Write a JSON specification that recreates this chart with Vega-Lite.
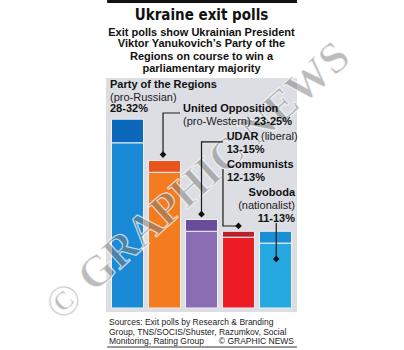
{
  "$schema": "https://vega.github.io/schema/vega-lite/v6.json",
  "width": 191,
  "height": 234,
  "autosize": {"type": "none"},
  "padding": {"left": 106, "top": 78, "right": 107, "bottom": 38},
  "background": "white",
  "config": {"view": {"fill": "#dcdee3", "stroke": null}, "text": {"font": "Liberation Sans"}},
  "datasets": {
    "bars": [
      {"party": "Party of the Regions", "pos": 1, "low": 28, "high": 32},
      {"party": "United Opposition", "pos": 2, "low": 23, "high": 25},
      {"party": "UDAR", "pos": 3, "low": 13, "high": 15},
      {"party": "Communists", "pos": 4, "low": 12, "high": 13},
      {"party": "Svoboda", "pos": 5, "low": 11, "high": 13}
    ],
    "title": [
      {"t": "Ukraine exit polls", "x": 3.0, "y": 49.66}
    ],
    "subtitle": [
      {"t": "Exit polls show Ukrainian President", "x": 3.0, "y": 46.66},
      {"t": "Viktor Yanukovich’s Party of the", "x": 3.0, "y": 44.69},
      {"t": "Regions on course to win a", "x": 3.0, "y": 42.59},
      {"t": "parliamentary majority", "x": 3.0, "y": 40.5}
    ],
    "boldLeft": [
      {"t": "Party of the Regions", "x": 0.527, "y": 37.8},
      {"t": "28-32%", "x": 0.527, "y": 33.7},
      {"t": "United Opposition", "x": 2.5, "y": 33.7},
      {"t": "23-25%", "x": 4.419, "y": 31.6},
      {"t": "UDAR", "x": 3.68, "y": 28.98},
      {"t": "13-15%", "x": 3.68, "y": 26.78},
      {"t": "Communists", "x": 3.69, "y": 24.24},
      {"t": "12-13%", "x": 3.69, "y": 22.03}
    ],
    "normalLeft": [
      {"t": "(pro-Russian)", "x": 0.527, "y": 35.6},
      {"t": "(pro-Western)", "x": 2.5, "y": 31.6},
      {"t": "(liberal)", "x": 4.608, "y": 28.98}
    ],
    "boldRight": [
      {"t": "Svoboda", "x": 5.527, "y": 19.49},
      {"t": "11-13%", "x": 5.527, "y": 15.08}
    ],
    "normalRight": [
      {"t": "(nationalist)", "x": 5.527, "y": 17.29}
    ],
    "leaders": [
      {"g": "opp", "o": 1, "x": 1.96, "y": 26.1},
      {"g": "opp", "o": 2, "x": 1.96, "y": 33.05},
      {"g": "opp", "o": 3, "x": 2.42, "y": 33.05},
      {"g": "udar", "o": 1, "x": 3.0, "y": 15.93},
      {"g": "udar", "o": 2, "x": 3.0, "y": 28.14},
      {"g": "udar", "o": 3, "x": 3.58, "y": 28.14},
      {"g": "comm", "o": 1, "x": 3.58, "y": 23.56},
      {"g": "comm", "o": 2, "x": 3.58, "y": 13.9},
      {"g": "comm", "o": 3, "x": 4.0, "y": 13.9},
      {"g": "svo", "o": 1, "x": 5.02, "y": 14.4},
      {"g": "svo", "o": 2, "x": 5.02, "y": 8.3}
    ],
    "diamonds": [
      {"x": 1.96, "y": 26.0},
      {"x": 3.0, "y": 15.9},
      {"x": 4.0, "y": 13.9},
      {"x": 5.02, "y": 8.3}
    ],
    "footerLeft": [
      {"t": "Sources: Exit polls by Research & Branding", "x": 0.5, "y": -2.37},
      {"t": "Group, TNS/SOCIS/Shuster, Razumkov, Social", "x": 0.5, "y": -4.07},
      {"t": "Monitoring, Rating Group", "x": 0.5, "y": -5.59}
    ],
    "footerRight": [
      {"t": "© GRAPHIC NEWS", "x": 5.5, "y": -5.59}
    ],
    "topRule": [{"x1": 0.45, "x2": 5.58, "y": 51.95}],
    "bottomRule": [{"x1": 0.45, "x2": 5.58, "y": -6.61}],
    "watermark": [{"t": "© GRAPHIC NEWS", "x": 2.905, "y": 21.36}]
  },
  "layer": [
    {
      "data": {"name": "bars"},
      "mark": {"type": "bar", "width": 32, "stroke": "#eef0f4", "strokeWidth": 1},
      "encoding": {
        "x": {"field": "pos", "type": "quantitative", "scale": {"domain": [0.4189, 5.581], "nice": false, "zero": false, "padding": 0}, "axis": null},
        "y": {"field": "low", "type": "quantitative", "scale": {"domain": [-0.68, 38.98], "nice": false, "zero": false, "padding": 0}, "axis": null},
        "y2": {"datum": 0},
        "color": {"field": "party", "type": "nominal", "legend": null,
          "scale": {"domain": ["Party of the Regions", "United Opposition", "UDAR", "Communists", "Svoboda"],
                    "range": ["#1a8ad6", "#f47c20", "#8b6db3", "#ec1c24", "#25a9e0"]}}
      }
    },
    {
      "data": {"name": "bars"},
      "mark": {"type": "bar", "width": 32, "stroke": "#eef0f4", "strokeWidth": 1},
      "encoding": {
        "x": {"field": "pos", "type": "quantitative"},
        "y": {"field": "high", "type": "quantitative"},
        "y2": {"field": "low"},
        "color": {"field": "party", "type": "nominal", "legend": null,
          "scale": {"domain": ["Party of the Regions", "United Opposition", "UDAR", "Communists", "Svoboda"],
                    "range": ["#0b68bb", "#e9531d", "#6a4c9c", "#b8202b", "#1a8fd6"]}}
      }
    },
    {
      "data": {"name": "watermark"},
      "mark": {"type": "text", "align": "center", "baseline": "middle", "font": "Liberation Serif", "fontSize": 44, "fontWeight": "bold", "angle": -42, "fill": "#7a7a7a", "fillOpacity": 0.5, "stroke": "#ffffff", "strokeWidth": 1.2, "strokeOpacity": 0.7},
      "encoding": {
        "x": {"field": "x", "type": "quantitative"},
        "y": {"field": "y", "type": "quantitative"},
        "text": {"field": "t"}
      }
    },
    {
      "data": {"name": "leaders"},
      "mark": {"type": "line", "color": "#1a1a1a", "strokeWidth": 1.2, "interpolate": "linear"},
      "encoding": {
        "x": {"field": "x", "type": "quantitative"},
        "y": {"field": "y", "type": "quantitative"},
        "detail": {"field": "g"},
        "order": {"field": "o", "type": "quantitative"}
      }
    },
    {
      "data": {"name": "diamonds"},
      "mark": {"type": "point", "shape": "diamond", "filled": true, "color": "#111", "size": 45, "opacity": 1},
      "encoding": {
        "x": {"field": "x", "type": "quantitative"},
        "y": {"field": "y", "type": "quantitative"}
      }
    },
    {
      "data": {"name": "title"},
      "mark": {"type": "text", "align": "center", "baseline": "middle", "font": "DejaVu Sans Condensed, Liberation Sans, sans-serif", "fontSize": 15, "fontWeight": "bold", "color": "#111"},
      "encoding": {
        "x": {"field": "x", "type": "quantitative"},
        "y": {"field": "y", "type": "quantitative"},
        "text": {"field": "t"}
      }
    },
    {
      "data": {"name": "subtitle"},
      "mark": {"type": "text", "align": "center", "baseline": "middle", "fontSize": 11, "fontWeight": "bold", "color": "#111"},
      "encoding": {
        "x": {"field": "x", "type": "quantitative"},
        "y": {"field": "y", "type": "quantitative"},
        "text": {"field": "t"}
      }
    },
    {
      "data": {"name": "boldLeft"},
      "mark": {"type": "text", "align": "left", "baseline": "middle", "fontSize": 11, "fontWeight": "bold", "color": "#111"},
      "encoding": {
        "x": {"field": "x", "type": "quantitative"},
        "y": {"field": "y", "type": "quantitative"},
        "text": {"field": "t"}
      }
    },
    {
      "data": {"name": "normalLeft"},
      "mark": {"type": "text", "align": "left", "baseline": "middle", "fontSize": 11, "color": "#222"},
      "encoding": {
        "x": {"field": "x", "type": "quantitative"},
        "y": {"field": "y", "type": "quantitative"},
        "text": {"field": "t"}
      }
    },
    {
      "data": {"name": "boldRight"},
      "mark": {"type": "text", "align": "right", "baseline": "middle", "fontSize": 11, "fontWeight": "bold", "color": "#111"},
      "encoding": {
        "x": {"field": "x", "type": "quantitative"},
        "y": {"field": "y", "type": "quantitative"},
        "text": {"field": "t"}
      }
    },
    {
      "data": {"name": "normalRight"},
      "mark": {"type": "text", "align": "right", "baseline": "middle", "fontSize": 11, "color": "#222"},
      "encoding": {
        "x": {"field": "x", "type": "quantitative"},
        "y": {"field": "y", "type": "quantitative"},
        "text": {"field": "t"}
      }
    },
    {
      "data": {"name": "footerLeft"},
      "mark": {"type": "text", "align": "left", "baseline": "middle", "fontSize": 8.5, "color": "#222"},
      "encoding": {
        "x": {"field": "x", "type": "quantitative"},
        "y": {"field": "y", "type": "quantitative"},
        "text": {"field": "t"}
      }
    },
    {
      "data": {"name": "footerRight"},
      "mark": {"type": "text", "align": "right", "baseline": "middle", "fontSize": 8.5, "color": "#222"},
      "encoding": {
        "x": {"field": "x", "type": "quantitative"},
        "y": {"field": "y", "type": "quantitative"},
        "text": {"field": "t"}
      }
    },
    {
      "data": {"name": "topRule"},
      "mark": {"type": "rule", "color": "#111", "strokeWidth": 3},
      "encoding": {
        "x": {"field": "x1", "type": "quantitative"},
        "x2": {"field": "x2"},
        "y": {"field": "y", "type": "quantitative"}
      }
    },
    {
      "data": {"name": "bottomRule"},
      "mark": {"type": "rule", "color": "#777", "strokeWidth": 1.5},
      "encoding": {
        "x": {"field": "x1", "type": "quantitative"},
        "x2": {"field": "x2"},
        "y": {"field": "y", "type": "quantitative"}
      }
    }
  ],
  "resolve": {"scale": {"color": "independent"}}
}
